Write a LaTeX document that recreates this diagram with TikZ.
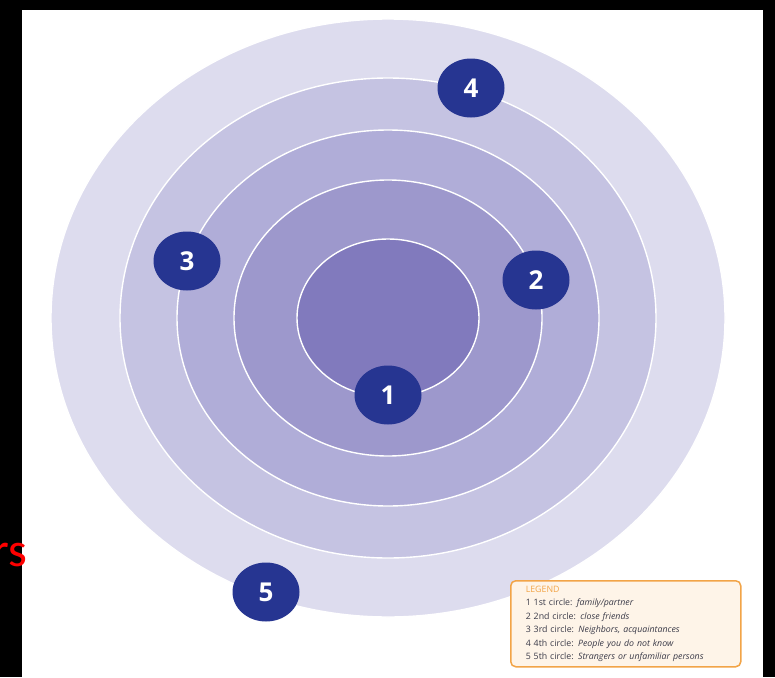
\documentclass[tikz,border=0pt]{standalone}
\usepackage{fontspec}
\setmainfont{Open Sans}
\newfontfamily\slidefont{Carlito}
\usetikzlibrary{shapes.geometric}
\definecolor{ringfive}{HTML}{DDDCEE}
\definecolor{ringfour}{HTML}{C5C3E2}
\definecolor{ringthree}{HTML}{B0ADD8}
\definecolor{ringtwo}{HTML}{9D98CC}
\definecolor{ringone}{HTML}{817ABD}
\definecolor{badgeblue}{HTML}{263591}
\definecolor{legendorange}{HTML}{F2A447}
\definecolor{legendfill}{HTML}{FEF4E8}
\definecolor{legendink}{HTML}{3A3A48}

\begin{document}
\begin{tikzpicture}[x=1pt,y=-1pt,
ring/.style={draw=white,line width=1.4pt},
badge/.style={ellipse,fill=badgeblue,minimum width=67pt,minimum height=59pt,inner sep=0pt,text=white,font=\fontsize{26}{26}\selectfont\bfseries},
legendbox/.style={draw=legendorange,fill=legendfill,line width=1.5pt,rounded corners=5pt,text width=200pt,minimum height=86pt,inner xsep=15pt,inner ysep=2pt,align=left,text=legendink,font=\fontsize{8.8}{14.5}\selectfont}]
\useasboundingbox (0,0) rectangle (775,677);
\fill[black] (0,0) rectangle (775,677);
\fill[white] (22,10) rectangle (763,677);
% the five circles, outside in
\foreach \rx/\ry/\col in {337/299/ringfive,268/240/ringfour,211/188/ringthree,154/138/ringtwo,91/79/ringone}
  \filldraw[ring,fill=\col] (388,318) ellipse [x radius=\rx pt,y radius=\ry pt];
\node[badge] (n1) at (388,395) {1};
\node[badge] (n2) at (536,280) {2};
\node[badge] (n3) at (187,261) {3};
\node[badge] (n4) at (471,88) {4};
\node[badge] (n5) at (266,592) {5};
\node[legendbox,anchor=north west] (legend) at (510,580) {{\color{legendorange}LEGEND}\\[-1pt]
1\ 1st circle: \textit{family/partner}\\[-1pt]
2\ 2nd circle: \textit{close friends}\\[-1pt]
3\ 3rd circle: \textit{Neighbors, acquaintances}\\[-1pt]
4\ 4th circle: \textit{People you do not know}\\[-1pt]
5\ 5th circle: \textit{Strangers or unfamiliar persons}};
\node[anchor=base east,inner sep=0pt,text=red,font=\slidefont\fontsize{48}{48}\selectfont] (cut) at (27,566) {rs};
\end{tikzpicture}
\end{document}
